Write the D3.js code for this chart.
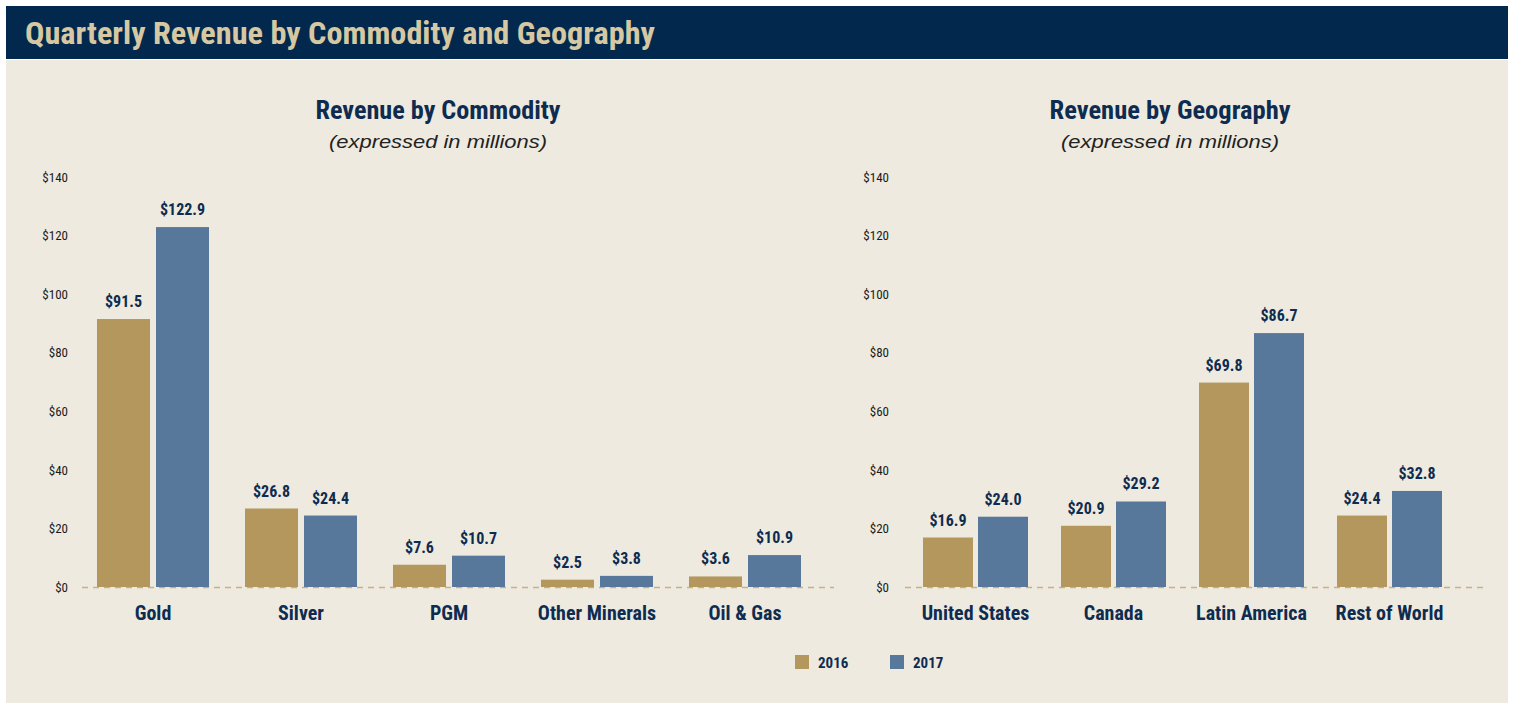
<!DOCTYPE html>
<html><head><meta charset="utf-8">
<script src="https://cdn.jsdelivr.net/npm/d3@7"></script>
<style>
html,body{margin:0;padding:0;background:#fff;}
svg{display:block;}
</style></head>
<body>
<svg id="chart" width="1513" height="708"></svg>
<script>
const title = "Quarterly Revenue by Commodity and Geography";
const years = ["2016", "2017"];
const commodityCats = ["Gold", "Silver", "PGM", "Other Minerals", "Oil & Gas"];
const commodity2016 = [91.5, 26.8, 7.6, 2.5, 3.6];
const commodity2017 = [122.9, 24.4, 10.7, 3.8, 10.9];
const geoCats = ["United States", "Canada", "Latin America", "Rest of World"];
const geo2016 = [16.9, 20.9, 69.8, 24.4];
const geo2017 = [24.0, 29.2, 86.7, 32.8];
const yTicks = [0, 20, 40, 60, 80, 100, 120, 140];

const COL = {header:"#02284d", titleTxt:"#d5c8a3", panel:"#eeeae0", gold:"#b3975c", blue:"#57789b", navy:"#0e2c50", base:"#c6b185", tick:"#1a1a1a"};
const FONT_C = '"Liberation Sans Narrow","Roboto Condensed","DejaVu Sans Condensed","Arial Narrow",sans-serif';
const FONT_R = '"Liberation Sans",Arial,"Helvetica",sans-serif';

const svg = d3.select("#chart");
svg.append("rect").attr("x",6).attr("y",60).attr("width",1502).attr("height",643).attr("fill",COL.panel);
svg.append("rect").attr("x",6).attr("y",6).attr("width",1502).attr("height",53).attr("fill",COL.header);
svg.append("text").attr("x",25).attr("y",44).attr("fill",COL.titleTxt)
  .attr("font-family",FONT_C).attr("font-weight","bold").attr("font-size",31)
  .attr("textLength",630).attr("lengthAdjust","spacingAndGlyphs").text(title);

const y = d3.scaleLinear().domain([0,140]).range([587,177]);
const colors = d3.scaleOrdinal().domain(years).range([COL.gold, COL.blue]);

function panel(opts){
  const g = svg.append("g");
  g.append("text").attr("x",opts.cx).attr("y",119).attr("text-anchor","middle")
    .attr("font-family",FONT_C).attr("font-weight","bold").attr("font-size",25).attr("fill",COL.navy)
    .attr("textLength",opts.tw).attr("lengthAdjust","spacingAndGlyphs").text(opts.heading);
  g.append("text").attr("x",opts.cx).attr("y",148).attr("text-anchor","middle")
    .attr("font-family",FONT_R).attr("font-style","italic").attr("font-size",19).attr("fill","#222")
    .attr("textLength",218).attr("lengthAdjust","spacingAndGlyphs").text("(expressed in millions)");
  const ax = d3.axisLeft(y).tickValues(yTicks).tickFormat(d=>"$"+d).tickSize(0).tickPadding(0);
  const axg = g.append("g").attr("transform",`translate(${opts.axisX},0)`).call(ax);
  axg.select(".domain").remove();
  axg.selectAll("text").attr("font-family",FONT_C).attr("font-size",13).attr("fill",COL.tick);
  g.append("line").attr("x1",opts.baseX[0]).attr("x2",opts.baseX[1]).attr("y1",y(0)+0.5).attr("y2",y(0)+0.5)
    .attr("stroke",COL.base).attr("stroke-width",1.5).attr("stroke-dasharray","6,5");
  const x0 = d3.scaleBand().domain(opts.cats).range(opts.range).paddingInner(0).paddingOuter(0);
  const x1 = d3.scaleBand().domain(years).range([0, opts.bw*2+opts.gap]).paddingInner(opts.gap/(opts.bw+opts.gap));
  const data = opts.cats.map((c,i)=>({cat:c, vals:[{yr:"2016",v:opts.v16[i]},{yr:"2017",v:opts.v17[i]}]}));
  const grp = g.selectAll("g.cat").data(data).join("g").attr("class","cat")
    .attr("transform",d=>`translate(${x0(d.cat)+x0.bandwidth()/2-(opts.bw*2+opts.gap)/2},0)`);
  grp.selectAll("rect").data(d=>d.vals).join("rect")
    .attr("x",d=>x1(d.yr)).attr("width",x1.bandwidth())
    .attr("y",d=>y(d.v)).attr("height",d=>y(0)-y(d.v)).attr("fill",d=>colors(d.yr));
  grp.selectAll("text.val").data(d=>d.vals).join("text").attr("class","val")
    .attr("x",d=>x1(d.yr)+x1.bandwidth()/2).attr("y",d=>y(d.v)-12).attr("text-anchor","middle")
    .attr("font-family",FONT_C).attr("font-weight","bold").attr("font-size",16).attr("fill",COL.navy)
    .text(d=>"$"+d.v.toFixed(1));
  grp.append("text").attr("x",(opts.bw*2+opts.gap)/2).attr("y",620).attr("text-anchor","middle")
    .attr("font-family",FONT_C).attr("font-weight","bold").attr("font-size",20).attr("fill",COL.navy)
    .text(d=>d.cat);
}

panel({cx:438, tw:245, heading:"Revenue by Commodity", axisX:68, baseX:[82,834], cats:commodityCats,
  range:[79,819], bw:53, gap:6, v16:commodity2016, v17:commodity2017});
panel({cx:1170, tw:241, heading:"Revenue by Geography", axisX:889, baseX:[905,1483], cats:geoCats,
  range:[906.5,1458.5], bw:50, gap:5, v16:geo2016, v17:geo2017});

const lg = svg.append("g").selectAll("g").data(years).join("g")
  .attr("transform",(d,i)=>`translate(${795+i*95},655)`);
lg.append("rect").attr("width",14).attr("height",14).attr("fill",d=>colors(d));
lg.append("text").attr("x",23).attr("y",12.5).attr("font-family",FONT_C).attr("font-weight","bold")
  .attr("font-size",15).attr("fill",COL.navy).text(d=>d);
</script>
</body></html>
